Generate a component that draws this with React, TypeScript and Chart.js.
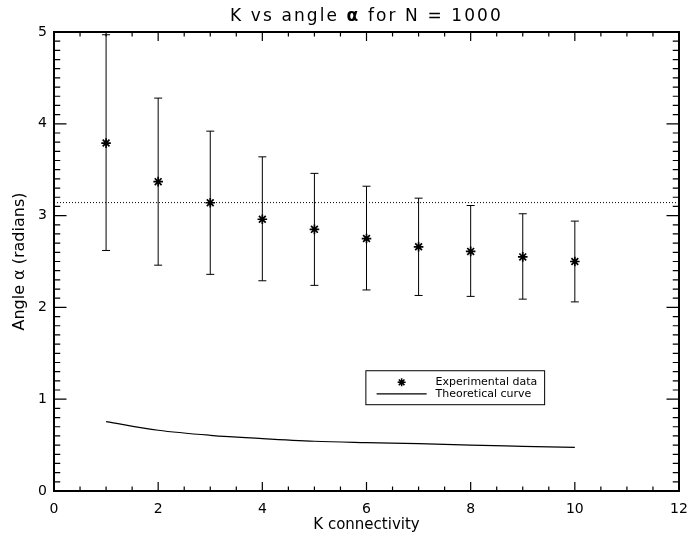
import React, { useEffect, useRef } from "react";
import { Chart, registerables } from "chart.js";

Chart.register(...registerables);

// ---- data ----
const kValues = [1, 2, 3, 4, 5, 6, 7, 8, 9, 10];
const alphaMean = [3.79, 3.37, 3.14, 2.96, 2.85, 2.75, 2.66, 2.61, 2.55, 2.5];
const alphaLow = [2.62, 2.46, 2.36, 2.29, 2.24, 2.19, 2.13, 2.12, 2.09, 2.06];
const alphaHigh = [4.97, 4.28, 3.92, 3.64, 3.46, 3.32, 3.19, 3.11, 3.02, 2.94];
const theoryValues = [0.756, 0.662, 0.607, 0.571, 0.542, 0.527, 0.515, 0.499, 0.487, 0.475];
const piLevel = 3.1416;
const piRange = [0, 12];
const titleParts = ["K vs angle ", "\u03b1", " for N = 1000"];
const xTitle = "K connectivity";
const yTitle = "Angle \u03b1 (radians)";
const legendLabels = ["Experimental data", "Theoretical curve"];

const FONT = "'DejaVu Sans', 'Liberation Sans', sans-serif";

const titlePlugin = {
  id: "customTitle",
  afterDraw(chart: any) {
    const { ctx, chartArea: a } = chart;
    ctx.save();
    ctx.fillStyle = "#000";
    ctx.textBaseline = "alphabetic";
    ctx.textAlign = "left";
    try {
      (ctx as any).letterSpacing = "2.1px";
    } catch (e) {}
    const fonts = [`17px ${FONT}`, `bold 17px ${FONT}`, `17px ${FONT}`];
    const widths = titleParts.map((t, i) => {
      ctx.font = fonts[i];
      return ctx.measureText(t).width;
    });
    const total = widths.reduce((s, w) => s + w, 0);
    let x = (a.left + a.right) / 2 - total / 2;
    titleParts.forEach((t, i) => {
      ctx.font = fonts[i];
      ctx.fillText(t, x, 20.5);
      x += widths[i];
    });
    ctx.restore();
  },
};

const frameTicksPlugin = {
  id: "frameTicks",
  afterDraw(chart: any) {
    const { ctx, chartArea: a, scales } = chart;
    const xs = scales.x;
    const ys = scales.y;
    ctx.save();
    ctx.strokeStyle = "#000";
    ctx.lineWidth = 1.2;
    for (let i = 0; i <= 24; i++) {
      const v = i * 0.5;
      const px = xs.getPixelForValue(v);
      const len = i % 4 === 0 ? 9 : 4.5;
      ctx.beginPath();
      ctx.moveTo(px, a.bottom);
      ctx.lineTo(px, a.bottom - len);
      ctx.moveTo(px, a.top);
      ctx.lineTo(px, a.top + len);
      ctx.stroke();
    }
    for (let i = 0; i <= 50; i++) {
      const v = i * 0.1;
      const py = ys.getPixelForValue(v);
      const len = i % 10 === 0 ? 12.5 : 6.25;
      ctx.beginPath();
      ctx.moveTo(a.left, py);
      ctx.lineTo(a.left + len, py);
      ctx.moveTo(a.right, py);
      ctx.lineTo(a.right - len, py);
      ctx.stroke();
    }
    ctx.lineWidth = 2;
    ctx.strokeRect(a.left, a.top, a.right - a.left, a.bottom - a.top);
    ctx.restore();
  },
};

const errorBarPlugin = {
  id: "errorBars",
  afterDatasetsDraw(chart: any) {
    const { ctx, chartArea: a, scales } = chart;
    ctx.save();
    ctx.beginPath();
    ctx.rect(a.left, a.top - 1, a.right - a.left, a.bottom - a.top + 2);
    ctx.clip();
    ctx.strokeStyle = "#000";
    ctx.lineWidth = 1;
    kValues.forEach((k, i) => {
      const px = scales.x.getPixelForValue(k);
      const lo = scales.y.getPixelForValue(alphaLow[i]);
      const hi = scales.y.getPixelForValue(alphaHigh[i]);
      ctx.beginPath();
      ctx.moveTo(px, lo);
      ctx.lineTo(px, hi);
      ctx.moveTo(px - 4, lo);
      ctx.lineTo(px + 4, lo);
      ctx.moveTo(px - 4, hi);
      ctx.lineTo(px + 4, hi);
      ctx.stroke();
    });
    ctx.restore();
  },
};

const boxLegendPlugin = {
  id: "boxLegend",
  afterDraw(chart: any) {
    const { ctx, chartArea: a } = chart;
    const w = a.right - a.left;
    const h = a.bottom - a.top;
    const bx = a.left + 0.499 * w;
    const by = a.top + 0.738 * h;
    const bw = 0.286 * w;
    const bh = 0.074 * h;
    ctx.save();
    ctx.strokeStyle = "#000";
    ctx.lineWidth = 1;
    ctx.strokeRect(bx, by, bw, bh);
    const row1 = by + 0.34 * bh;
    const row2 = by + 0.68 * bh;
    const symX = bx + 0.2 * bw;
    const r = 4;
    ctx.lineWidth = 1.5;
    ctx.beginPath();
    ctx.moveTo(symX - r, row1);
    ctx.lineTo(symX + r, row1);
    ctx.moveTo(symX, row1 - r);
    ctx.lineTo(symX, row1 + r);
    const d = r * 0.7071;
    ctx.moveTo(symX - d, row1 - d);
    ctx.lineTo(symX + d, row1 + d);
    ctx.moveTo(symX - d, row1 + d);
    ctx.lineTo(symX + d, row1 - d);
    ctx.stroke();
    ctx.lineWidth = 1.2;
    ctx.beginPath();
    ctx.moveTo(bx + 0.06 * bw, row2);
    ctx.lineTo(bx + 0.34 * bw, row2);
    ctx.stroke();
    ctx.fillStyle = "#000";
    ctx.font = `11px ${FONT}`;
    ctx.textBaseline = "middle";
    ctx.textAlign = "left";
    const tx = bx + 0.39 * bw;
    ctx.fillText(legendLabels[0], tx, row1);
    ctx.fillText(legendLabels[1], tx, row2);
    ctx.restore();
  },
};

export default function App() {
  const ref = useRef<HTMLCanvasElement | null>(null);

  useEffect(() => {
    if (!ref.current) return;
    const expData = kValues.map((k, i) => ({ x: k, y: alphaMean[i] }));
    const theoryData = kValues.map((k, i) => ({ x: k, y: theoryValues[i] }));
    const piData = piRange.map((x) => ({ x, y: piLevel }));

    const chart = new Chart(ref.current, {
      type: "scatter",
      data: {
        datasets: [
          {
            label: legendLabels[0],
            data: expData,
            showLine: false,
            pointStyle: "star",
            pointRadius: 4.8,
            pointBorderWidth: 1.7,
            borderColor: "#000",
            backgroundColor: "#000",
          },
          {
            label: legendLabels[1],
            data: theoryData,
            showLine: true,
            pointRadius: 0,
            borderWidth: 1.2,
            borderColor: "#000",
            cubicInterpolationMode: "monotone",
          },
          {
            label: "pi",
            data: piData,
            showLine: true,
            pointRadius: 0,
            borderWidth: 1,
            borderColor: "#000",
            borderDash: [1, 2],
          },
        ],
      } as any,
      options: {
        animation: false,
        responsive: false,
        layout: { padding: { top: 32, right: 12, left: 0, bottom: 0 } },
        plugins: {
          legend: { display: false },
          tooltip: { enabled: false },
          title: { display: false },
        },
        scales: {
          x: {
            type: "linear",
            min: 0,
            max: 12,
            grid: { display: false, drawTicks: false },
            border: { display: false },
            ticks: {
              stepSize: 2,
              color: "#000",
              padding: 10,
              font: { family: FONT, size: 14 },
            },
            title: {
              display: true,
              text: xTitle,
              color: "#000",
              font: { family: FONT, size: 15 },
              padding: { top: 0, bottom: 12 },
            },
            afterFit: (s: any) => {
              s.height = 55;
              s.paddingLeft = 0;
              s.paddingRight = 0;
            },
          },
          y: {
            type: "linear",
            min: 0,
            max: 5,
            grid: { display: false, drawTicks: false },
            border: { display: false },
            ticks: {
              stepSize: 1,
              color: "#000",
              padding: 7,
              font: { family: FONT, size: 14 },
            },
            title: {
              display: true,
              text: yTitle,
              color: "#000",
              font: { family: FONT, size: 16 },
              padding: { top: 10, bottom: 0 },
            },
            afterFit: (s: any) => {
              s.width = 54;
              s.paddingTop = 0;
              s.paddingBottom = 0;
            },
          },
        },
      } as any,
      plugins: [errorBarPlugin, frameTicksPlugin, boxLegendPlugin, titlePlugin],
    });
    return () => chart.destroy();
  }, []);

  return (
    <div style={{ position: "fixed", left: 0, top: 0, width: 691, height: 546, background: "#fff" }}>
      <canvas ref={ref} width={691} height={546} style={{ width: 691, height: 546 }} />
    </div>
  );
}
